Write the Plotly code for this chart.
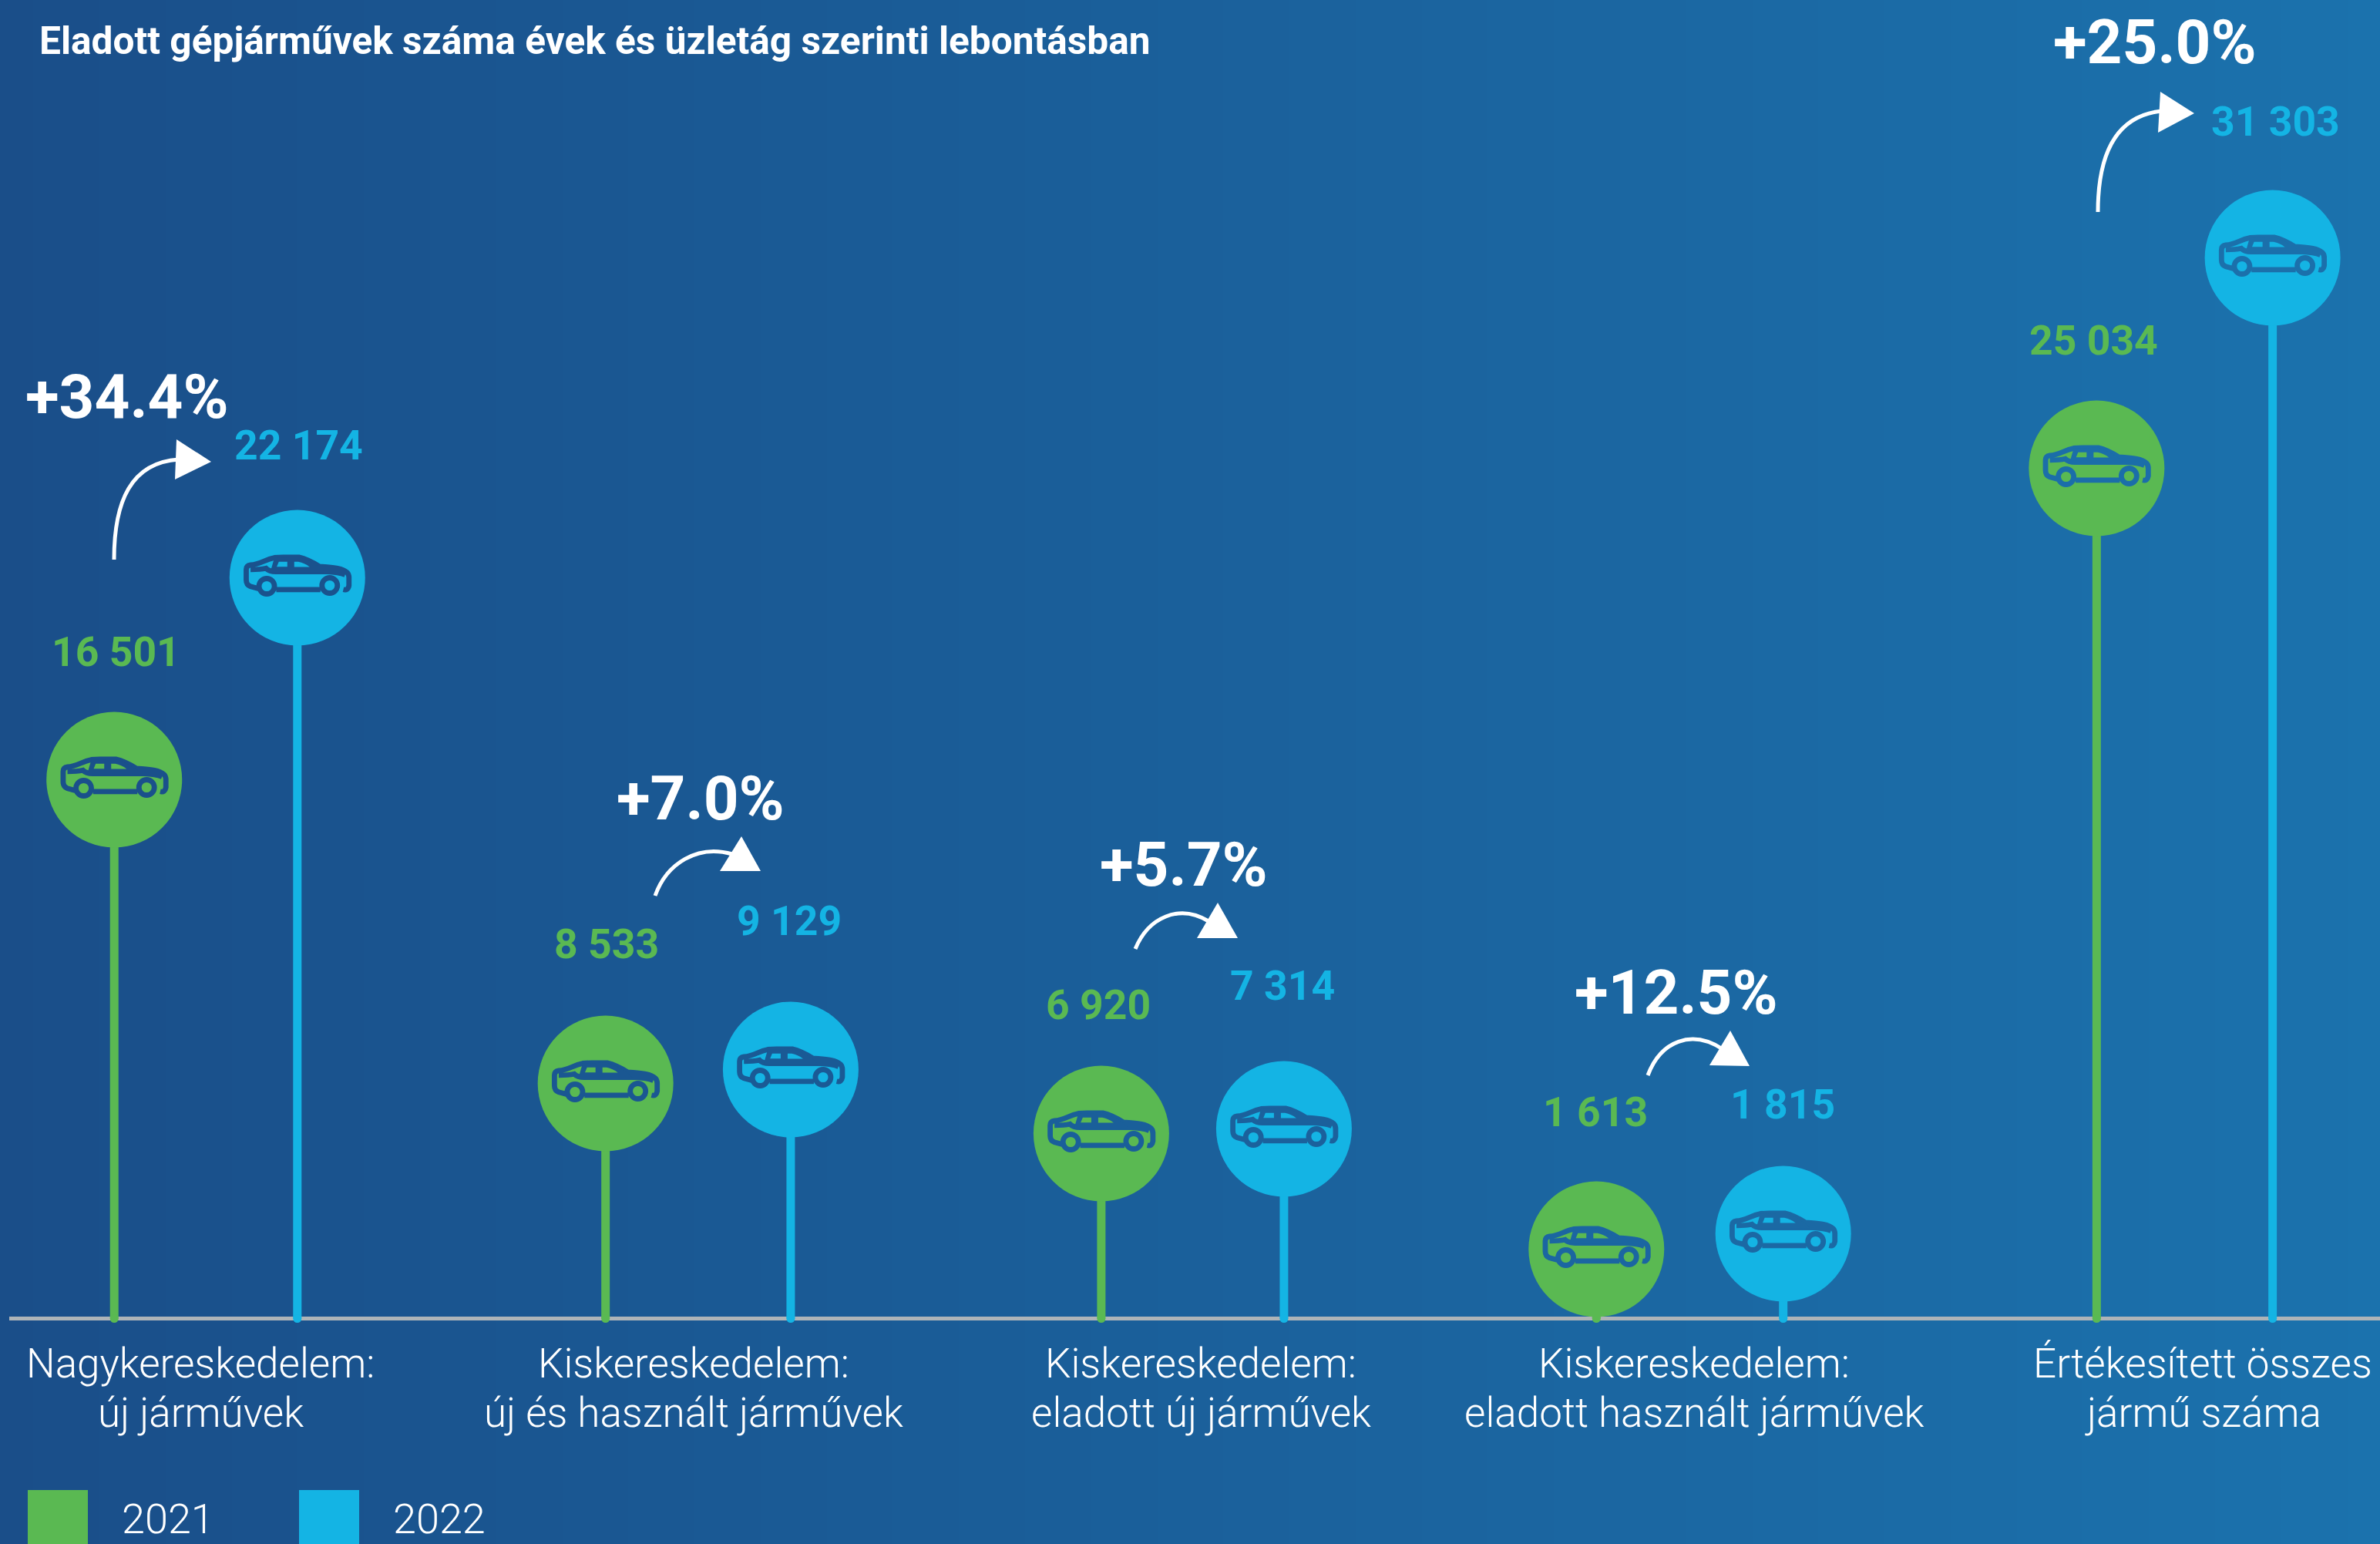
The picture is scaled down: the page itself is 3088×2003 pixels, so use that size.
import plotly.graph_objects as go

# ---- data ----
categories_line1 = ["Nagykereskedelem:", "Kiskereskedelem:", "Kiskereskedelem:", "Kiskereskedelem:", "Értékesített összes"]
categories_line2 = ["új járművek", "új és használt járművek", "eladott új járművek", "eladott használt járművek", "jármű száma"]
values_2021 = [16501, 8533, 6920, 1613, 25034]
values_2022 = [22174, 9129, 7314, 1815, 31303]
changes = ["+34.4%", "+7.0%", "+5.7%", "+12.5%", "+25.0%"]
# the lollipop heights of the source infographic are not proportional to the values,
# so the drawn height above the baseline is read separately from the picture
drawn_height_2021 = [699, 305, 240, 90, 1103]
drawn_height_2022 = [961, 323, 246, 110, 1376]
title_text = "Eladott gépjárművek száma évek és üzletág szerinti lebontásban"
years = ["2021", "2022"]

# ---- layout constants ----
W, H = 3088, 2003
GREEN, BLUE = "#5AB952", "#14B4E4"
BG_LEFT, BG_RIGHT = (26, 78, 137), (27, 114, 173)
BASE_PY = 1710.5
UNIT = 642.0
ORIGIN = 267.0
group_pos = [0, 0.9950, 1.9944, 2.9992, 3.9992]
half_gap = [0.185, 0.1871, 0.1846, 0.1888, 0.1778]
FAMILY = "Roboto"


def px_x(px):
    return (px - ORIGIN) / UNIT


def fx(px):
    return px / W


def fy(py):
    return 1 - py / H


def bg_at(px):
    t = px / W
    return "rgb(%d,%d,%d)" % tuple(round(a + (b - a) * t) for a, b in zip(BG_LEFT, BG_RIGHT))


x_2021 = [g - h for g, h in zip(group_pos, half_gap)]
x_2022 = [g + h for g, h in zip(group_pos, half_gap)]
x_range = [px_x(0), px_x(W)]
y_range = [BASE_PY - H, BASE_PY]

fig = go.Figure()

# gradient background
fig.add_trace(go.Heatmap(
    x=x_range, y=y_range, z=[[0, 1], [0, 1]], zsmooth="best", showscale=False, hoverinfo="skip",
    colorscale=[[0, "rgb(%d,%d,%d)" % BG_LEFT], [1, "rgb(%d,%d,%d)" % BG_RIGHT]], zmin=0, zmax=1,
))

# baseline
fig.add_trace(go.Scatter(x=[px_x(12), px_x(W)], y=[0, 0], mode="lines",
                         line=dict(color="#AEB4B8", width=5), hoverinfo="skip", showlegend=False))


def lollipop(xs, heights, color, name):
    x, y, size = [], [], []
    for a, h in zip(xs, heights):
        x += [a, a, None]
        y += [0, h, None]
        size += [11, 176, 0]
    fig.add_trace(go.Scatter(
        x=x, y=y, mode="lines+markers", name=name, showlegend=False, hoverinfo="skip",
        line=dict(color=color, width=11),
        marker=dict(color=color, size=size, line=dict(width=0), opacity=1),
    ))


lollipop(x_2021, drawn_height_2021, GREEN, years[0])
lollipop(x_2022, drawn_height_2022, BLUE, years[1])

# ---- car icon, drawn in pixel units around each circle centre ----
C0X, C0Y = 294, 162


def P(x, y):
    return "%.1f,%.1f" % ((x - C0X) / 3, -(y - C0Y) / 3)


def ring(cx, cy, r):
    k = 0.5523 * r
    return ("M" + P(cx - r, cy)
            + "C" + P(cx - r, cy - k) + " " + P(cx - k, cy - r) + " " + P(cx, cy - r)
            + "C" + P(cx + k, cy - r) + " " + P(cx + r, cy - k) + " " + P(cx + r, cy)
            + "C" + P(cx + r, cy + k) + " " + P(cx + k, cy + r) + " " + P(cx, cy + r)
            + "C" + P(cx - k, cy + r) + " " + P(cx - r, cy + k) + " " + P(cx - r, cy))


car_lines = (
    "M" + P(142, 204) + "L" + P(112, 196) + "Q" + P(95, 190) + " " + P(95, 170)
    + "L" + P(95, 130) + "Q" + P(95, 114) + " " + P(112, 112)
    + "C" + P(150, 110) + " " + P(165, 92) + " " + P(205, 84)
    + "L" + P(240, 82) + "L" + P(300, 82)
    + "Q" + P(335, 90) + " " + P(380, 118)
    + "C" + P(420, 122) + " " + P(465, 122) + " " + P(488, 142)
    + "Q" + P(496, 150) + " " + P(495, 165) + "L" + P(495, 192)
    + "Q" + P(492, 212) + " " + P(473, 208)
    + "M" + P(212, 208) + "L" + P(384, 208)
    + "M" + P(112, 130) + "Q" + P(150, 130) + " " + P(172, 125) + "Q" + P(185, 138) + " " + P(210, 138)
    + "L" + P(410, 138) + "Q" + P(455, 140) + " " + P(480, 150)
    + ring(175, 195, 30) + ring(420, 192, 30)
)
car_roof = (
    "M" + P(190, 136) + "L" + P(205, 84) + "L" + P(300, 82) + "Q" + P(335, 90) + " " + P(385, 125)
    + "L" + P(400, 140) + "L" + P(190, 140) + "Z"
    + "M" + P(214, 119) + "L" + P(222, 100) + "L" + P(255, 100) + "L" + P(255, 119) + "Z"
    + "M" + P(282, 100) + "L" + P(298, 100) + "Q" + P(322, 104) + " " + P(342, 120) + "L" + P(282, 120) + "Z"
)

shapes = []
for xs, hs in ((x_2021, drawn_height_2021), (x_2022, drawn_height_2022)):
    for a, h in zip(xs, hs):
        col = bg_at(ORIGIN + a * UNIT)
        for path, kw in (
            (car_lines, dict(line=dict(color=col, width=6.8))),
            (car_roof, dict(fillcolor=col, fillrule="evenodd", line=dict(width=0))),
        ):
            shapes.append(dict(type="path", path=path, xref="x", yref="y", layer="above",
                               xsizemode="pixel", ysizemode="pixel", xanchor=a, yanchor=h, **kw))


def Q(x, y):
    return "%.6f,%.6f" % (fx(x), fy(y))


# change arrows: (start, ctrl1, ctrl2, end, triangle points)
arrows = [
    ((148, 726), (148, 650), (170, 600), (232, 596), [(229, 570), (274, 599), (227, 622)]),
    ((850, 1162), (865, 1120), (905, 1095), (950, 1108), [(962, 1085), (987, 1130), (934, 1130)]),
    ((1473, 1231), (1490, 1190), (1530, 1172), (1568, 1195), [(1580, 1171), (1606, 1217), (1553, 1217)]),
    ((2138, 1395), (2155, 1350), (2195, 1335), (2235, 1361), [(2245, 1337), (2270, 1383), (2218, 1382)]),
    ((2722, 275), (2722, 200), (2745, 150), (2805, 144), [(2803, 119), (2847, 147), (2800, 172)]),
]
for s, c1, c2, e, tri in arrows:
    shapes.append(dict(type="path", xref="paper", yref="paper", layer="above", line=dict(color="white", width=5),
                       path="M" + Q(*s) + "C" + Q(*c1) + " " + Q(*c2) + " " + Q(*e)))
    shapes.append(dict(type="path", xref="paper", yref="paper", layer="above", line=dict(width=0), fillcolor="white",
                       path="M" + Q(*tri[0]) + "L" + Q(*tri[1]) + "L" + Q(*tri[2]) + "Z"))

# legend swatches
for (x0, x1), col in (((36, 114), GREEN), ((388, 466), BLUE)):
    shapes.append(dict(type="rect", xref="paper", yref="paper", layer="above", line=dict(width=0), fillcolor=col,
                       x0=fx(x0), x1=fx(x1), y0=fy(H), y1=fy(1933)))

annotations = []


def text(s, x, baseline, size, color="white", weight=400, anchor="center"):
    annotations.append(dict(
        text=s, x=fx(x), y=fy(baseline - 0.34 * size), xref="paper", yref="paper",
        xanchor=anchor, yanchor="middle", showarrow=False, borderpad=0,
        font=dict(family=FAMILY, size=size, color=color, weight=weight),
    ))


def thousands(v):
    return f"{v:,}".replace(",", " ")


label_pos_2021 = [(150, 864), (787, 1243), (1425, 1322), (2070, 1461), (2716, 460)]
label_pos_2022 = [(387, 596), (1024, 1213), (1664, 1297), (2313, 1451), (2952, 176)]
change_pos = [(165, 542), (909, 1063), (1536, 1149), (2175, 1315), (2796, 82)]
cat_x = [260, 900, 1558, 2198, 2858]

for v, (x, y) in zip(values_2021, label_pos_2021):
    text(thousands(v), x, y, 53.5, GREEN, 700)
for v, (x, y) in zip(values_2022, label_pos_2022):
    text(thousands(v), x, y, 53.5, BLUE, 700)
for s, (x, y) in zip(changes, change_pos):
    text(s, x, y, 80, "white", 700)
for a, b, x in zip(categories_line1, categories_line2, cat_x):
    text(a, x, 1787, 53, "white", 300)
    text(b, x, 1851, 53, "white", 300)
text(title_text, 50, 70, 49.6, "white", 700, "left")
text(years[0], 157, 1989, 54, "white", 300, "left")
text(years[1], 509, 1989, 54, "white", 300, "left")

fig.update_layout(
    width=W, height=H, margin=dict(l=0, r=0, t=0, b=0, pad=0), showlegend=False,
    paper_bgcolor="rgb(27,96,155)", plot_bgcolor="rgba(0,0,0,0)",
    xaxis=dict(range=x_range, visible=False, fixedrange=True),
    yaxis=dict(range=y_range, visible=False, fixedrange=True),
    shapes=shapes, annotations=annotations,
)
fig.write_html("out.html", config=dict(displayModeBar=False),
               post_script="document.body.style.margin='0';document.documentElement.style.overflow='hidden';")
